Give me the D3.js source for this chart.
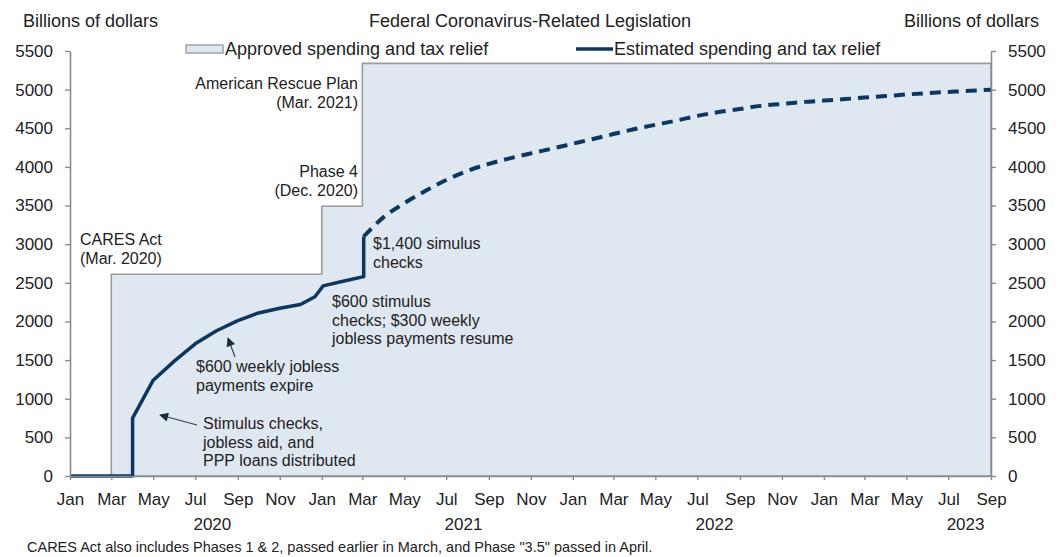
<!DOCTYPE html>
<html>
<head>
<meta charset="utf-8">
<script src="https://cdn.jsdelivr.net/npm/d3@7"></script>
<style>
  html, body { margin: 0; padding: 0; background: #ffffff; }
  svg { display: block; }
  text { font-family: "Liberation Sans", Arial, Helvetica, sans-serif; fill: #222; }
</style>
</head>
<body>
<svg id="chart" width="1059" height="557"></svg>
<script>
// ---------------- DATA ----------------
const yTickValues = [0, 500, 1000, 1500, 2000, 2500, 3000, 3500, 4000, 4500, 5000, 5500];
const yearLabels = ["2020", "2021", "2022", "2023"];

// Approved spending and tax relief (step series)
const approvedDates  = ["2020-01-01", "2020-03-01", "2021-01-01", "2021-03-01", "2023-09-01"];
const approvedValues = [0, 2610, 3490, 5340, 5340];

// Estimated spending and tax relief: actual (solid)
const actualDates  = ["2020-01-01", "2020-04-01", "2020-04-01", "2020-05-01", "2020-06-01", "2020-07-01",
                      "2020-08-01", "2020-09-01", "2020-10-01", "2020-11-01", "2020-12-01", "2020-12-22",
                      "2020-12-29", "2021-01-03", "2021-02-01", "2021-03-03", "2021-03-03"];
const actualValues = [0, 0, 750, 1240, 1490, 1710,
                      1880, 2010, 2110, 2170, 2220, 2320,
                      2400, 2460, 2520, 2580, 3100];

// Estimated spending and tax relief: projected (dashed)
const projDates  = ["2021-03-03", "2021-04-01", "2021-05-01", "2021-06-01", "2021-07-01", "2021-08-01",
                    "2021-09-01", "2021-10-01", "2021-11-01", "2021-12-01", "2022-01-01", "2022-02-01",
                    "2022-03-01", "2022-04-01", "2022-05-01", "2022-06-01", "2022-07-01", "2022-08-01",
                    "2022-09-01", "2022-10-01", "2022-11-01", "2022-12-01", "2023-01-01", "2023-02-01",
                    "2023-03-01", "2023-04-01", "2023-05-01", "2023-06-01", "2023-07-01", "2023-08-01",
                    "2023-09-01"];
const projValues = [3100, 3350, 3530, 3690, 3830, 3950,
                    4040, 4110, 4175, 4235, 4300, 4365,
                    4425, 4490, 4545, 4600, 4660, 4710,
                    4750, 4790, 4815, 4840, 4858, 4878,
                    4897, 4917, 4937, 4955, 4970, 4985,
                    5000];

// ---------------- SETUP ----------------
const parse = d3.timeParse("%Y-%m-%d");
const zip = (ds, vs) => ds.map((d, i) => ({ date: parse(d), value: vs[i] }));
const approved = zip(approvedDates, approvedValues);
const actual = zip(actualDates, actualValues);
const proj = zip(projDates, projValues);

const svg = d3.select("#chart");
const pLeft = 70, pRight = 991, pTop = 51, pBottom = 476;

const x = d3.scaleTime()
  .domain([new Date(2020, 0, 1), new Date(2023, 8, 1)])
  .range([pLeft, pRight]);
const y = d3.scaleLinear().domain([0, 5500]).range([pBottom, pTop]);

const fillCol = "#dfe7f1";
const edgeCol = "#9c9c9c";
const lineCol = "#0b3761";
const axisCol = "#8a8a8a";

// Approved area
const area = d3.area()
  .curve(d3.curveStepAfter)
  .x(d => x(d.date))
  .y0(y(0))
  .y1(d => y(d.value));
svg.append("path")
  .datum(approved)
  .attr("d", area)
  .attr("fill", fillCol)
  .attr("stroke", edgeCol)
  .attr("stroke-width", 1.6);

// Lines
const line = d3.line().x(d => x(d.date)).y(d => y(d.value));
svg.append("path")
  .datum(actual)
  .attr("d", line)
  .attr("fill", "none")
  .attr("stroke", lineCol)
  .attr("stroke-width", 3.5)
  .attr("stroke-linejoin", "round");
svg.append("path")
  .datum(proj)
  .attr("d", d3.line().x(d => x(d.date)).y(d => y(d.value)).curve(d3.curveMonotoneX))
  .attr("fill", "none")
  .attr("stroke", lineCol)
  .attr("stroke-width", 4)
  .attr("stroke-dasharray", "11,7");

// Axes
function styleAxis(g) {
  g.select(".domain").attr("stroke", axisCol).attr("stroke-width", 1.6);
  g.selectAll(".tick line").attr("stroke", axisCol).attr("stroke-width", 1.4);
  g.selectAll(".tick text")
    .attr("fill", "#222")
    .style("font-family", "'Liberation Sans', Arial, sans-serif")
    .style("font-size", "17px");
}
svg.append("g")
  .attr("transform", `translate(${pLeft},0)`)
  .call(d3.axisLeft(y).tickValues(yTickValues).tickSize(5).tickSizeOuter(0).tickPadding(12).tickFormat(d3.format("d")))
  .call(styleAxis);
svg.append("g")
  .attr("transform", `translate(${pRight},0)`)
  .call(d3.axisRight(y).tickValues(yTickValues).tickSize(5).tickSizeOuter(0).tickPadding(12).tickFormat(d3.format("d")))
  .call(styleAxis);
const xg = svg.append("g")
  .attr("transform", `translate(0,${pBottom})`)
  .call(d3.axisBottom(x)
    .tickValues(d3.timeMonth.every(2).range(new Date(2020, 0, 1), new Date(2023, 8, 2)))
    .tickSize(4).tickSizeOuter(0).tickFormat(d3.timeFormat("%b")))
  .call(styleAxis);
xg.selectAll(".tick text").attr("y", 29).attr("dy", 0);

// Year labels
svg.append("g").selectAll("text")
  .data(yearLabels)
  .join("text")
  .attr("x", d => x(new Date(+d, 6, 26)))
  .attr("y", 530)
  .attr("text-anchor", "middle")
  .style("font-size", "17px")
  .text(d => d);

// Header texts
svg.append("text").attr("x", 23).attr("y", 27).style("font-size", "18px").text("Billions of dollars");
svg.append("text").attr("x", 1039).attr("y", 27).attr("text-anchor", "end").style("font-size", "18px").text("Billions of dollars");
svg.append("text").attr("x", 530).attr("y", 27).attr("text-anchor", "middle").style("font-size", "18px")
  .text("Federal Coronavirus-Related Legislation");

// Legend
svg.append("rect").attr("x", 186).attr("y", 45).attr("width", 37).attr("height", 8)
  .attr("fill", fillCol).attr("stroke", edgeCol).attr("stroke-width", 1.4);
svg.append("text").attr("x", 225).attr("y", 55).style("font-size", "18px").text("Approved spending and tax relief");
svg.append("line").attr("x1", 576).attr("x2", 613).attr("y1", 49).attr("y2", 49)
  .attr("stroke", lineCol).attr("stroke-width", 3.5);
svg.append("text").attr("x", 614).attr("y", 55).style("font-size", "18px").text("Estimated spending and tax relief");

// Annotations
const notes = [
  { x: 80,  y: 245, anchor: "start", lines: ["CARES Act", "(Mar. 2020)"] },
  { x: 358, y: 177, anchor: "end",   lines: ["Phase 4", "(Dec. 2020)"] },
  { x: 358, y: 89,  anchor: "end",   lines: ["American Rescue Plan", "(Mar. 2021)"] },
  { x: 373, y: 249, anchor: "start", lines: ["$1,400 simulus", "checks"] },
  { x: 332, y: 307, anchor: "start", lines: ["$600 stimulus", "checks; $300 weekly", "jobless payments resume"] },
  { x: 196, y: 372, anchor: "start", lines: ["$600 weekly jobless", "payments expire"] },
  { x: 203, y: 429, anchor: "start", lines: ["Stimulus checks,", "jobless aid, and", "PPP loans distributed"] }
];
notes.forEach(n => {
  const t = svg.append("text")
    .attr("x", n.x).attr("y", n.y)
    .attr("text-anchor", n.anchor)
    .style("font-size", "16px");
  n.lines.forEach((l, i) => {
    t.append("tspan").attr("x", n.x).attr("dy", i === 0 ? 0 : 18.5).text(l);
  });
});

// Arrows
const defs = svg.append("defs");
defs.append("marker")
  .attr("id", "ah").attr("viewBox", "0 0 10 10")
  .attr("refX", 9).attr("refY", 5)
  .attr("markerWidth", 11).attr("markerHeight", 9)
  .attr("markerUnits", "userSpaceOnUse")
  .attr("orient", "auto")
  .append("path").attr("d", "M0,0 L10,5 L0,10 Z").attr("fill", "#1d2a3c");
[
  { x1: 235, y1: 357, x2: 228, y2: 338 },
  { x1: 197, y1: 425, x2: 160, y2: 415 }
].forEach(a => {
  svg.append("line")
    .attr("x1", a.x1).attr("y1", a.y1).attr("x2", a.x2).attr("y2", a.y2)
    .attr("stroke", "#3a4150").attr("stroke-width", 1.2)
    .attr("marker-end", "url(#ah)");
});

// Footnote
svg.append("text").attr("x", 27).attr("y", 552).style("font-size", "14.5px")
  .text("CARES Act also includes Phases 1 & 2, passed earlier in March, and Phase \"3.5\" passed in April.");
</script>
</body>
</html>
